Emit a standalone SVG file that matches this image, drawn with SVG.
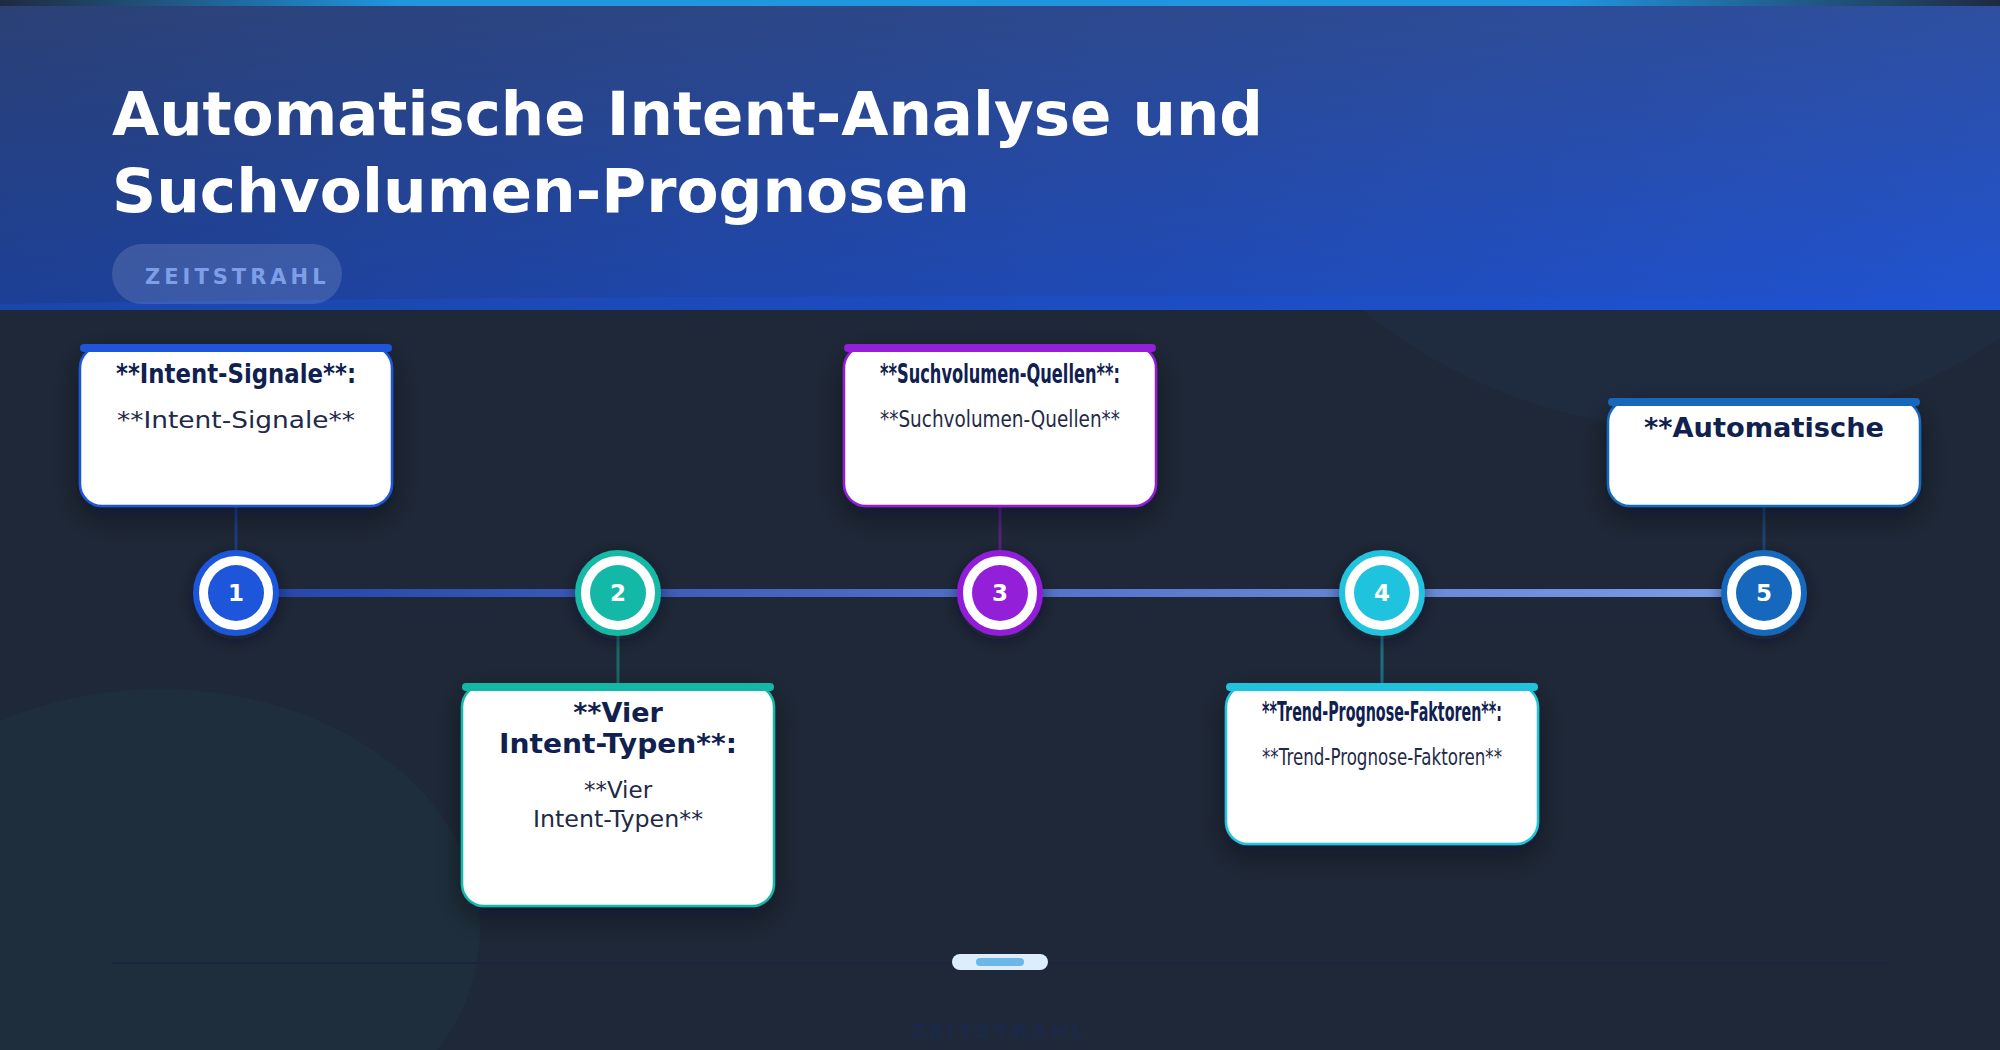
<svg xmlns="http://www.w3.org/2000/svg" width="2000" height="1050" viewBox="0 0 2000 1050">
<defs>
<linearGradient id="hdrBase" x1="0" y1="0" x2="1" y2="0">
<stop offset="0" stop-color="#1c3f96"/>
<stop offset="1" stop-color="#2053d2"/>
</linearGradient>
<linearGradient id="hdrOver" x1="0" y1="0" x2="0" y2="1">
<stop offset="0" stop-color="#504628" stop-opacity="0.3"/>
<stop offset="1" stop-color="#504628" stop-opacity="0"/>
</linearGradient>
<linearGradient id="topStrip" x1="0" y1="0" x2="1" y2="0">
<stop offset="0" stop-color="#1f2a40"/>
<stop offset="0.2" stop-color="#2196df"/>
<stop offset="0.78" stop-color="#2196df"/>
<stop offset="1" stop-color="#1f2a40"/>
</linearGradient>
<linearGradient id="lineGrad" x1="236" y1="0" x2="1764" y2="0" gradientUnits="userSpaceOnUse">
<stop offset="0" stop-color="#2545a8"/>
<stop offset="1" stop-color="#7d9de8"/>
</linearGradient>
<filter id="cardShadow" x="-20%" y="-20%" width="140%" height="150%">
<feDropShadow dx="0" dy="10" stdDeviation="14" flood-color="#0a0f1e" flood-opacity="0.45"/>
</filter>
<filter id="dotShadow" x="-50%" y="-50%" width="200%" height="200%">
<feDropShadow dx="0" dy="4" stdDeviation="8" flood-color="#0a0f1e" flood-opacity="0.5"/>
</filter>
</defs>
<style>
.card{fill:#ffffff;stroke-width:2.5;filter:url(#cardShadow)}
.bar{stroke:none}
.ttl{font-family:"DejaVu Sans",Verdana,sans-serif;font-weight:bold;font-size:26px;fill:#10204f;text-anchor:middle}
.body{font-family:"DejaVu Sans",Verdana,sans-serif;font-size:23px;fill:#1f2a48;text-anchor:middle}
.ring{fill:#ffffff;stroke-width:6;filter:url(#dotShadow)}
.num{font-family:"DejaVu Sans",Verdana,sans-serif;font-weight:bold;font-size:23px;fill:#ffffff;text-anchor:middle}
.stem{stroke-width:3;stroke-opacity:0.45}
</style>

<!-- background -->
<rect x="0" y="0" width="2000" height="1050" fill="#1f2838"/>
<circle cx="1700" cy="-106" r="536" fill="#3b82f6" fill-opacity="0.035"/>
<ellipse cx="160" cy="930" rx="320" ry="241" fill="#14b8a6" fill-opacity="0.045"/>
<line x1="112" y1="963" x2="1888" y2="963" stroke="#1b2540" stroke-width="2"/>

<!-- header -->
<g id="header">
<rect x="0" y="0" width="2000" height="310" fill="url(#hdrBase)"/>
<rect x="0" y="0" width="2000" height="310" fill="url(#hdrOver)"/>
<path d="M0,304 Q900,290 2000,300 L2000,310 L0,310 Z" fill="#1e52d8" fill-opacity="0.35"/>
<rect x="0" y="0" width="2000" height="6" fill="url(#topStrip)"/>
<text x="112" y="135" font-family="DejaVu Sans, Verdana, sans-serif" font-weight="bold" font-size="61" fill="#ffffff" textLength="1151" lengthAdjust="spacingAndGlyphs">Automatische Intent-Analyse und</text>
<text x="112" y="212" font-family="DejaVu Sans, Verdana, sans-serif" font-weight="bold" font-size="61" fill="#ffffff" textLength="858" lengthAdjust="spacingAndGlyphs">Suchvolumen-Prognosen</text>
<rect x="112" y="244" width="230" height="60" rx="30" fill="#ffffff" fill-opacity="0.13"/>
<text x="145" y="284" font-family="DejaVu Sans, Verdana, sans-serif" font-weight="bold" font-size="21" letter-spacing="4" fill="#7e9fe8">ZEITSTRAHL</text>
</g>

<!-- connectors -->
<g id="connectors">
<rect x="236" y="589" width="1528" height="8" fill="url(#lineGrad)"/>
<line class="stem" x1="236" y1="506" x2="236" y2="552" stroke="#1d56db"/>
<line class="stem" x1="618" y1="634" x2="618" y2="685" stroke="#14b8a6"/>
<line class="stem" x1="1000" y1="506" x2="1000" y2="552" stroke="#931fd9"/>
<line class="stem" x1="1382" y1="634" x2="1382" y2="685" stroke="#20c3dd"/>
<line class="stem" x1="1764" y1="506" x2="1764" y2="552" stroke="#1668bd"/>
</g>

<!-- node 1 -->
<g id="node-1">
<rect class="card" x="80" y="346" width="312" height="160" rx="22" stroke="#1d56db"/>
<rect class="bar" x="80" y="344" width="312" height="8" rx="4" fill="#1d56db"/>
<text class="ttl" x="236" y="383" textLength="240" lengthAdjust="spacingAndGlyphs">**Intent-Signale**:</text>
<text class="body" x="236" y="428" textLength="238" lengthAdjust="spacingAndGlyphs">**Intent-Signale**</text>
<circle class="ring" cx="236" cy="593" r="40" stroke="#1d56db"/>
<circle cx="236" cy="593" r="28" fill="#1d56db"/>
<text class="num" x="236" y="601">1</text>
</g>

<!-- node 2 -->
<g id="node-2">
<rect class="card" x="462" y="685" width="312" height="221" rx="22" stroke="#14b8a6"/>
<rect class="bar" x="462" y="683" width="312" height="8" rx="4" fill="#14b8a6"/>
<text class="ttl" x="618" y="722" style="font-size:27px">**Vier</text>
<text class="ttl" x="618" y="753" style="font-size:27px" textLength="238" lengthAdjust="spacingAndGlyphs">Intent-Typen**:</text>
<text class="body" x="618" y="798">**Vier</text>
<text class="body" x="618" y="827" textLength="170" lengthAdjust="spacingAndGlyphs">Intent-Typen**</text>
<circle class="ring" cx="618" cy="593" r="40" stroke="#14b8a6"/>
<circle cx="618" cy="593" r="28" fill="#14b8a6"/>
<text class="num" x="618" y="601">2</text>
</g>

<!-- node 3 -->
<g id="node-3">
<rect class="card" x="844" y="346" width="312" height="160" rx="22" stroke="#931fd9"/>
<rect class="bar" x="844" y="344" width="312" height="8" rx="4" fill="#931fd9"/>
<text class="ttl" x="1000" y="383" textLength="240" lengthAdjust="spacingAndGlyphs">**Suchvolumen-Quellen**:</text>
<text class="body" x="1000" y="427" textLength="240" lengthAdjust="spacingAndGlyphs">**Suchvolumen-Quellen**</text>
<circle class="ring" cx="1000" cy="593" r="40" stroke="#931fd9"/>
<circle cx="1000" cy="593" r="28" fill="#931fd9"/>
<text class="num" x="1000" y="601">3</text>
</g>

<!-- node 4 -->
<g id="node-4">
<rect class="card" x="1226" y="685" width="312" height="159" rx="22" stroke="#20c3dd"/>
<rect class="bar" x="1226" y="683" width="312" height="8" rx="4" fill="#20c3dd"/>
<text class="ttl" x="1382" y="721" textLength="240" lengthAdjust="spacingAndGlyphs">**Trend-Prognose-Faktoren**:</text>
<text class="body" x="1382" y="765" textLength="240" lengthAdjust="spacingAndGlyphs">**Trend-Prognose-Faktoren**</text>
<circle class="ring" cx="1382" cy="593" r="40" stroke="#20c3dd"/>
<circle cx="1382" cy="593" r="28" fill="#20c3dd"/>
<text class="num" x="1382" y="601">4</text>
</g>

<!-- node 5 -->
<g id="node-5">
<rect class="card" x="1608" y="400" width="312" height="106" rx="22" stroke="#1668bd"/>
<rect class="bar" x="1608" y="398" width="312" height="8" rx="4" fill="#1668bd"/>
<text class="ttl" x="1764" y="437" textLength="240" lengthAdjust="spacingAndGlyphs">**Automatische</text>
<circle class="ring" cx="1764" cy="593" r="40" stroke="#1668bd"/>
<circle cx="1764" cy="593" r="28" fill="#1668bd"/>
<text class="num" x="1764" y="601">5</text>
</g>

<!-- footer -->
<g id="footer">
<rect x="952" y="954" width="96" height="16" rx="8" fill="#dceefb"/>
<rect x="976" y="958" width="48" height="8" rx="4" fill="#6cb7e8"/>
<text x="1000" y="1038" text-anchor="middle" font-family="DejaVu Sans, Verdana, sans-serif" font-weight="bold" font-size="20" letter-spacing="4" fill="#1c2848">ZEITSTRAHL</text>
</g>
</svg>
